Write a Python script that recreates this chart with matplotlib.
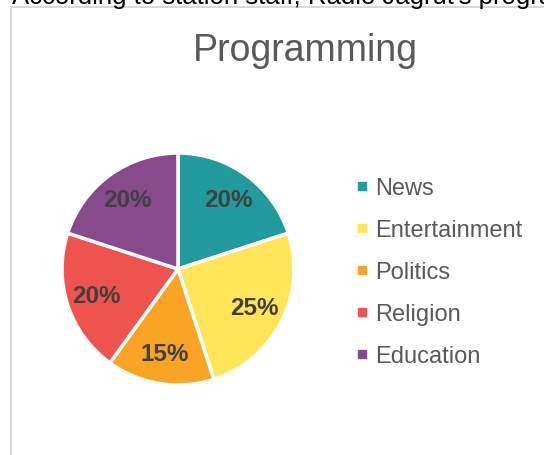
import matplotlib.pyplot as plt
from matplotlib.lines import Line2D
from matplotlib.patches import Rectangle

plt.rcParams['font.family'] = ['Liberation Sans', 'DejaVu Sans']

# data
categories = ['News', 'Entertainment', 'Politics', 'Religion', 'Education']
shares = [20, 25, 15, 20, 20]
colors = ['#229B9F', '#FFE557', '#F9A425', '#EF5350', '#874A8A']

W, H = 544, 456
fig = plt.figure(figsize=(W / 100, H / 100), dpi=100)

# cut-off sentence above the chart
fig.text(12 / W, 1 - 4 / H, "According to station staff, Radio Jagrut's programming",
         fontsize=18.5, color='black', va='baseline', ha='left')

# chart frame (runs off the right and bottom of the picture)
fig.patches.append(Rectangle((11 / W, -0.1), 1.0, 1 - 8 / H + 0.1,
                             transform=fig.transFigure, fill=False,
                             edgecolor='#D9D9D9', linewidth=1.5))

fig.text(305 / W, 1 - 61 / H, 'Programming', fontsize=27, color='#595959',
         ha='center', va='baseline')

# pie
cx, cy, r = 178, 270, 116
ax = fig.add_axes([(cx - r) / W, (H - cy - r) / H, 2 * r / W, 2 * r / H])
wedges, texts, autotexts = ax.pie(
    shares, colors=colors, startangle=90, counterclock=False,
    autopct='%1.0f%%', pctdistance=0.74,
    wedgeprops=dict(edgecolor='white', linewidth=2.5),
    textprops=dict(fontsize=17.5, fontweight='bold', color='#404040'))
ax.set_xlim(-1.0, 1.0)
ax.set_ylim(-1.0, 1.0)

# legend
handles = [Line2D([0], [0], marker='s', linestyle='none', markersize=5.5,
                  markerfacecolor=c, markeredgecolor=c) for c in colors]
leg = fig.legend(handles, categories, loc='upper left',
                 bbox_to_anchor=(344 / W, 1 - 166 / H), frameon=False,
                 fontsize=17, labelcolor='#595959', handlelength=0.5,
                 handletextpad=0.3, labelspacing=0.85, borderpad=0)

plt.savefig('out.png', dpi=100)
